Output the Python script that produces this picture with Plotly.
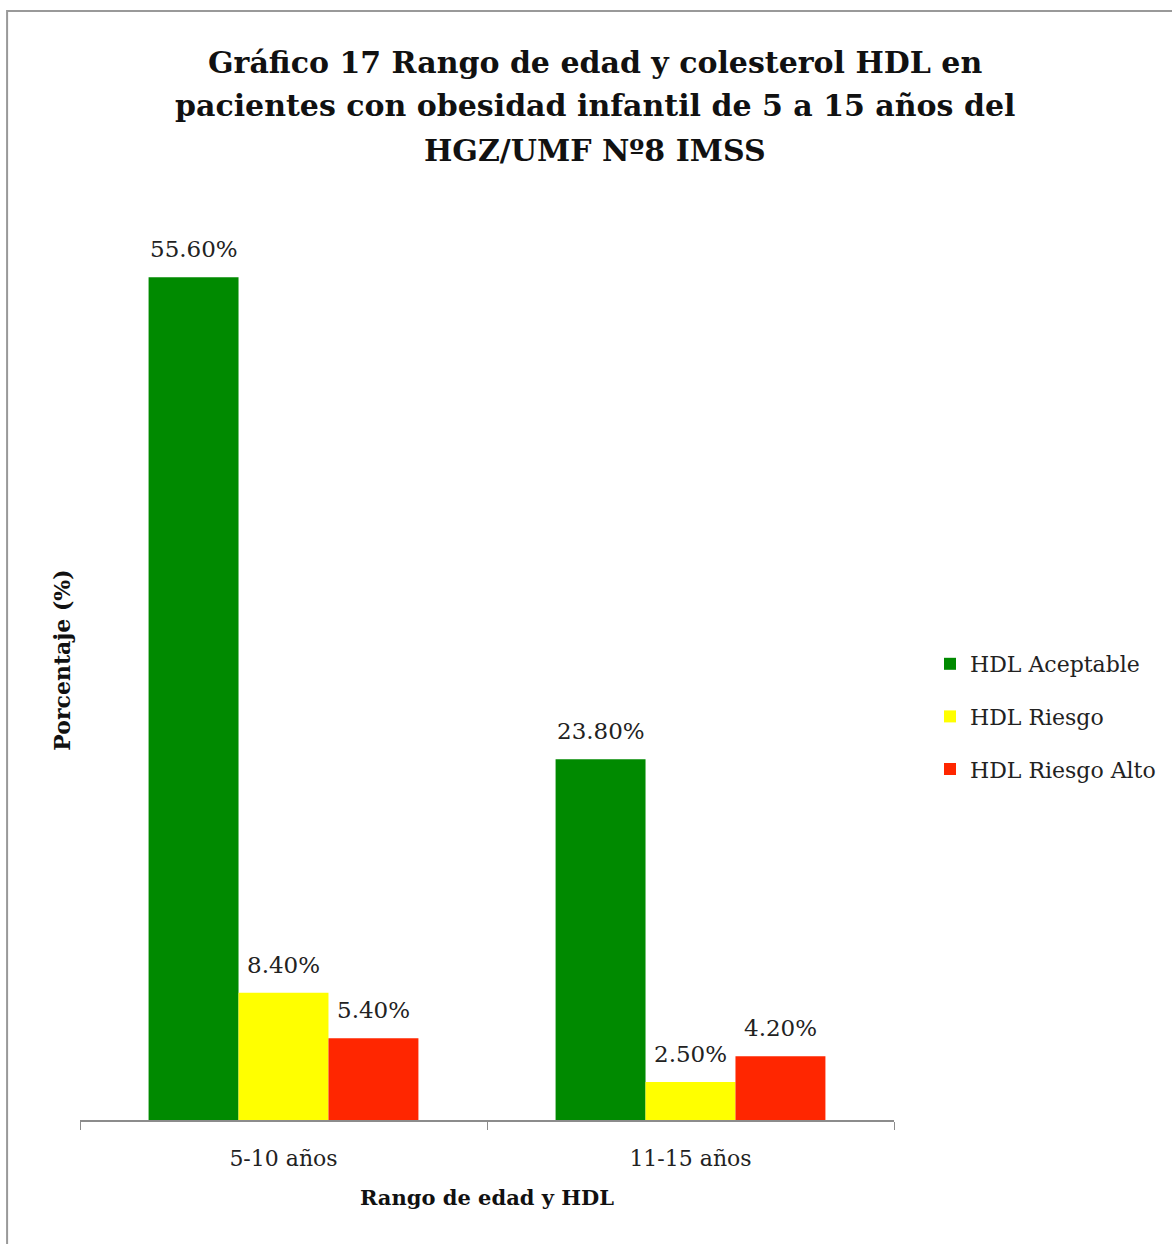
import plotly.graph_objects as go

# Age ranges and HDL cholesterol categories (percent of patients)
age_ranges = ["5-10 años", "11-15 años"]
series_names = ["HDL Aceptable", "HDL Riesgo", "HDL Riesgo Alto"]
hdl_aceptable = [55.6, 23.8]
hdl_riesgo = [8.4, 2.5]
hdl_riesgo_alto = [5.4, 4.2]
title_lines = [
    "Gráfico 17 Rango de edad y colesterol HDL en",
    "pacientes con obesidad infantil de 5 a 15 años del",
    "HGZ/UMF Nº8 IMSS",
]

series_values = [hdl_aceptable, hdl_riesgo, hdl_riesgo_alto]
series_colors = ["#008A00", "#FFFF00", "#FF2600"]

FONT = "DejaVu Serif"
TEXT_COLOR = "#222222"

W, H = 1172, 1244
L, R, T, B = 80, 277, 200, 124
Y_MAX = 60.7
BAR_PX = 90  # width of one bar in pixels inside a group

plot_w = W - L - R
plot_h = H - T - B
def px_x(x):
    return (x - L) / plot_w
def px_y(y):
    return (H - B - y) / plot_h

fig = go.Figure()
for i, (name, vals, col) in enumerate(zip(series_names, series_values, series_colors)):
    fig.add_trace(go.Bar(
        name=name,
        x=age_ranges,
        y=vals,
        marker=dict(color=col, line=dict(width=0)),
        legendgroup=f"g{i}",
    ))
    # value labels above each bar
    for cat, v in zip(age_ranges, vals):
        fig.add_annotation(
            x=cat, y=v, xref="x", yref="y",
            text=f"{v:.2f}%", showarrow=False,
            xshift=(i - 1) * BAR_PX, yshift=13,
            yanchor="bottom", xanchor="center",
            font=dict(family=FONT, size=23, color=TEXT_COLOR),
        )

# chart title, one line per annotation
for y_px, line in zip([62, 105, 150], title_lines):
    fig.add_annotation(
        x=px_x(596), y=px_y(y_px), xref="paper", yref="paper",
        text=f"<b>{line}</b>", showarrow=False,
        xanchor="center", yanchor="middle",
        font=dict(family=FONT, size=30, color="#111111"),
    )

# outer frame of the chart area (top and left edges visible)
fig.add_shape(type="rect", xref="paper", yref="paper",
              x0=px_x(7), x1=px_x(1190), y0=px_y(1260), y1=px_y(11),
              line=dict(color="#999999", width=2), layer="below")

fig.update_layout(
    width=W, height=H,
    margin=dict(l=L, r=R, t=T, b=B),
    paper_bgcolor="white", plot_bgcolor="white",
    barmode="group", bargap=0.337, bargroupgap=0,
    font=dict(family=FONT, color=TEXT_COLOR),
    legend=dict(
        x=px_x(930), xanchor="left", y=px_y(643), yanchor="top",
        font=dict(family=FONT, size=22, color=TEXT_COLOR),
        tracegroupgap=21, itemwidth=30, bgcolor="rgba(0,0,0,0)",
    ),
    xaxis=dict(
        showline=True, linecolor="#8c8c8c", linewidth=1.5,
        ticks="outside", tickson="boundaries", ticklen=8, tickcolor="#8c8c8c",
        tickfont=dict(family=FONT, size=22, color=TEXT_COLOR),
        ticklabelstandoff=18,
        title=dict(text="<b>Rango de edad y HDL</b>",
                   font=dict(family=FONT, size=21, color="#111111"), standoff=20),
        showgrid=False,
    ),
    yaxis=dict(
        range=[0, Y_MAX], showticklabels=False, showgrid=False, zeroline=False,
        showline=False, ticks="",
        title=dict(text="<b>Porcentaje (%)</b>",
                   font=dict(family=FONT, size=22, color="#111111"), standoff=2),
    ),
    showlegend=True,
)

fig.write_html("out.html")
